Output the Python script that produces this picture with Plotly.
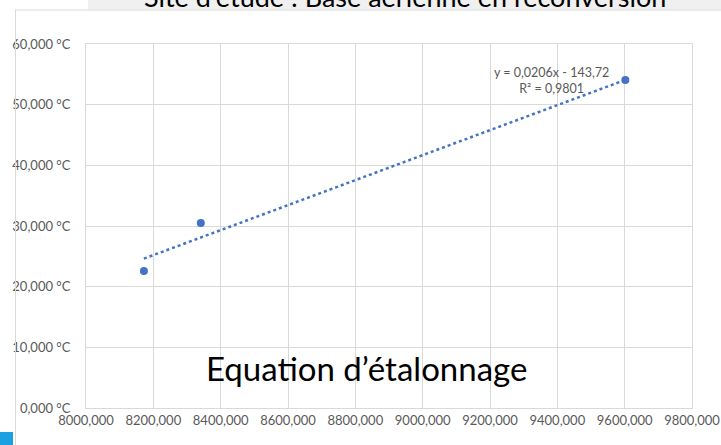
import plotly.graph_objects as go

# Data
x_vals = [8172000, 8341000, 9602000]
y_vals = [22600, 30500, 54050]

# Linear trend shown on the chart (y = 0,0206x - 143,72 in thousands)
slope = 0.0206
intercept = -143720

x_ticks = [8000000, 8200000, 8400000, 8600000, 8800000, 9000000, 9200000, 9400000, 9600000, 9800000]
x_tick_labels = ["8000,000", "8200,000", "8400,000", "8600,000", "8800,000",
                 "9000,000", "9200,000", "9400,000", "9600,000", "9800,000"]
y_ticks = [0, 10000, 20000, 30000, 40000, 50000, 60000]
y_tick_labels = ["0,000 °C", "10,000 °C", "20,000 °C", "30,000 °C", "40,000 °C", "50,000 °C", "60,000 °C"]

W, H = 721, 445
L, R, T, B = 86, 692, 44, 408  # plot area in pixels


def px(xp):
    return (xp - L) / (R - L)


def py(yp):
    return (B - yp) / (B - T)


BLUE = "#4472C4"
GRID = "#d9d9d9"
LABEL = "#595959"
FONT = "Lato, 'Open Sans', sans-serif"

trend_x = [min(x_vals), max(x_vals)]
trend_y = [slope * v + intercept for v in trend_x]

fig = go.Figure()
fig.add_trace(go.Scatter(x=trend_x, y=trend_y, mode="lines",
                         line=dict(color=BLUE, width=2.5, dash="dot"),
                         hoverinfo="skip", showlegend=False, cliponaxis=False))
fig.add_trace(go.Scatter(x=x_vals, y=y_vals, mode="markers",
                         marker=dict(color=BLUE, size=8),
                         showlegend=False, cliponaxis=False))

shapes = [
    # grey title band
    dict(type="rect", xref="paper", yref="paper", x0=px(88), x1=px(W + 2), y0=py(-2), y1=py(9.5),
         fillcolor="#f0f0f0", line=dict(width=0), layer="below"),
    # chart box border lines
    dict(type="line", xref="paper", yref="paper", x0=px(15), x1=px(W + 2), y0=py(10), y1=py(10),
         line=dict(color="#d9d9d9", width=1)),
    dict(type="line", xref="paper", yref="paper", x0=px(15.5), x1=px(15.5), y0=py(10), y1=py(H + 2),
         line=dict(color="#d9d9d9", width=1)),
    # small blue square bottom-left
    dict(type="rect", xref="paper", yref="paper", x0=px(-2), x1=px(13), y0=py(432), y1=py(H + 2),
         fillcolor="#1ba1e2", line=dict(width=0)),
]

annotations = [
    dict(text="Site d’étude : Base aérienne en reconversion", xref="paper", yref="paper",
         x=px(405), y=py(-4), xanchor="center", yanchor="middle",
         showarrow=False, font=dict(family=FONT, size=27, color="#000000")),
    dict(text="y = 0,0206x - 143,72<br>R² = 0,9801", xref="paper", yref="paper",
         x=px(551), y=py(80), xanchor="center", yanchor="middle", align="center",
         showarrow=False, font=dict(family=FONT, size=12.5, color=LABEL)),
    dict(text="Equation d’étalonnage", xref="paper", yref="paper",
         x=px(366), y=py(368), xanchor="center", yanchor="middle",
         showarrow=False, font=dict(family=FONT, size=33, color="#000000")),
]

fig.update_layout(
    width=W, height=H,
    margin=dict(l=L, r=W - R, t=T, b=H - B, autoexpand=False),
    paper_bgcolor="white", plot_bgcolor="white",
    font=dict(family=FONT, size=13, color=LABEL),
    shapes=shapes, annotations=annotations,
    xaxis=dict(range=[8000000, 9800000], tickvals=x_ticks, ticktext=x_tick_labels,
               showgrid=True, gridcolor=GRID, gridwidth=1, zeroline=False,
               showline=True, linecolor=GRID, mirror=True, ticks="",
               ticklabelstandoff=0,
               tickfont=dict(size=13, color=LABEL)),
    yaxis=dict(range=[0, 60000], tickvals=y_ticks, ticktext=y_tick_labels,
               showgrid=True, gridcolor=GRID, gridwidth=1, zeroline=False,
               showline=True, linecolor=GRID, mirror=True, ticks="",
               ticklabelstandoff=12,
               tickfont=dict(size=13, color=LABEL)),
)

fig.write_html("out.html",
               config={"displayModeBar": False},
               post_script="document.body.style.margin='0';document.body.style.overflow='hidden';")
